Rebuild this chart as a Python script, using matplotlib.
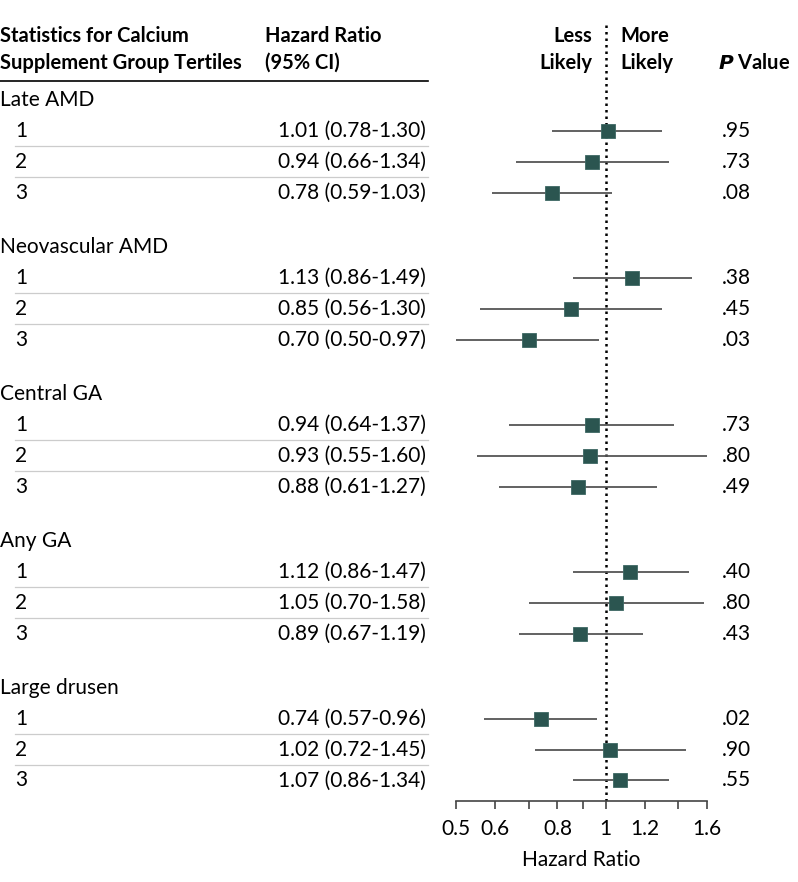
import matplotlib
matplotlib.use("Agg")
import matplotlib.pyplot as plt
import matplotlib.transforms as mtransforms
from matplotlib.ticker import FixedLocator, NullLocator, FixedFormatter

plt.rcParams['font.family'] = ['Lato', 'DejaVu Sans']

groups = ["Late AMD", "Neovascular AMD", "Central GA", "Any GA", "Large drusen"]
tertiles = ["1", "2", "3"]
hr = [[1.01, 0.94, 0.78], [1.13, 0.85, 0.70], [0.94, 0.93, 0.88], [1.12, 1.05, 0.89], [0.74, 1.02, 1.07]]
lo = [[0.78, 0.66, 0.59], [0.86, 0.56, 0.50], [0.64, 0.55, 0.61], [0.86, 0.70, 0.67], [0.57, 0.72, 0.86]]
hi = [[1.30, 1.34, 1.03], [1.49, 1.30, 0.97], [1.37, 1.60, 1.27], [1.47, 1.58, 1.19], [0.96, 1.45, 1.34]]
pvals = [[".95", ".73", ".08"], [".38", ".45", ".03"], [".73", ".80", ".49"], [".40", ".80", ".43"], [".02", ".90", ".55"]]
xticks_major = [0.5, 0.6, 0.8, 1, 1.2, 1.6]
xtick_labels = ["0.5", "0.6", "0.8", "1", "1.2", "1.6"]
xticks_minor = [0.7, 0.9, 1.4]

W, H = 798, 882
fig = plt.figure(figsize=(W / 100, H / 100), dpi=100)

# layout in pixels
ax_left, ax_right = 456, 707
ax_top, ax_bottom = 21, 801
y0_px, unit = 100, 31.0
group_period = 4.74

def u(px):
    return (px - y0_px) / unit

ax = fig.add_axes([ax_left / W, 1 - ax_bottom / H, (ax_right - ax_left) / W, (ax_bottom - ax_top) / H])
ax.set_xscale('log')
ax.set_xlim(0.5, 1.6)
ax.set_ylim(u(ax_bottom), u(ax_top))
ax.patch.set_alpha(0)
for s in ['top', 'right', 'left']:
    ax.spines[s].set_visible(False)
ax.spines['bottom'].set_color('#444444')
ax.spines['bottom'].set_linewidth(1.2)
ax.yaxis.set_major_locator(NullLocator())
ax.xaxis.set_major_locator(FixedLocator(xticks_major))
ax.xaxis.set_major_formatter(FixedFormatter(xtick_labels))
ax.xaxis.set_minor_locator(FixedLocator(xticks_minor))
ax.xaxis.set_minor_formatter(FixedFormatter([""] * len(xticks_minor)))
ax.tick_params(axis='x', which='both', direction='out', length=6, width=1.2, color='#444444',
               labelsize=15, pad=7)
ax.set_xlabel("Hazard Ratio", fontsize=15, labelpad=8)

ax.axvline(1, color='black', linestyle=(0, (1, 1.6)), linewidth=1.8, zorder=1)

trans = mtransforms.blended_transform_factory(fig.transFigure, ax.transData)
def fx(px):
    return px / W

fs = 15
fsb = 14.5
sq_color = '#2b5550'

for g, name in enumerate(groups):
    gy = g * group_period
    ax.text(fx(0), gy, name, transform=trans, fontsize=fs, va='center', ha='left')
    for i, t in enumerate(tertiles):
        y = gy + 1 + i * 0.995
        ax.text(fx(15), y, t, transform=trans, fontsize=fs, va='center', ha='left')
        ax.text(fx(426), y, f"{hr[g][i]:.2f} ({lo[g][i]:.2f}-{hi[g][i]:.2f})", transform=trans,
                fontsize=fs, va='center', ha='right')
        ax.text(fx(722), y, pvals[g][i], transform=trans, fontsize=fs, va='center', ha='left')
        ax.plot([lo[g][i], hi[g][i]], [y, y], color='#555555', linewidth=1.3, zorder=2, solid_capstyle='butt')
        ax.plot([hr[g][i]], [y], marker='s', markersize=9.5, color=sq_color,
                markeredgecolor='#3d6863', markeredgewidth=0.6, zorder=3)
        if i < 2:
            ys = y + 0.5
            ax.plot([fx(15), fx(428)], [ys, ys], transform=trans, color='#cccccc', linewidth=0.9,
                    clip_on=False)

# header
ax.plot([fx(0), fx(428)], [u(81), u(81)], transform=trans, color='black', linewidth=1.2, clip_on=False)
ax.text(fx(0), u(36), "Statistics for Calcium", transform=trans, fontsize=fsb, fontweight='bold', va='center')
ax.text(fx(0), u(63), "Supplement Group Tertiles", transform=trans, fontsize=fsb, fontweight='bold', va='center')
ax.text(fx(265), u(36), "Hazard Ratio", transform=trans, fontsize=fsb, fontweight='bold', va='center')
ax.text(fx(265), u(63), "(95% CI)", transform=trans, fontsize=fsb, fontweight='bold', va='center')
ax.text(fx(592), u(36), "Less", transform=trans, fontsize=fsb, fontweight='bold', va='center', ha='right')
ax.text(fx(592), u(63), "Likely", transform=trans, fontsize=fsb, fontweight='bold', va='center', ha='right')
ax.text(fx(620), u(36), "More", transform=trans, fontsize=fsb, fontweight='bold', va='center', ha='left')
ax.text(fx(620), u(63), "Likely", transform=trans, fontsize=fsb, fontweight='bold', va='center', ha='left')
ax.text(fx(790), u(63), r"$\bfit{P}$ Value", transform=trans, fontsize=fsb, fontweight='bold', va='center', ha='right')

fig.savefig("out.png", dpi=100)
